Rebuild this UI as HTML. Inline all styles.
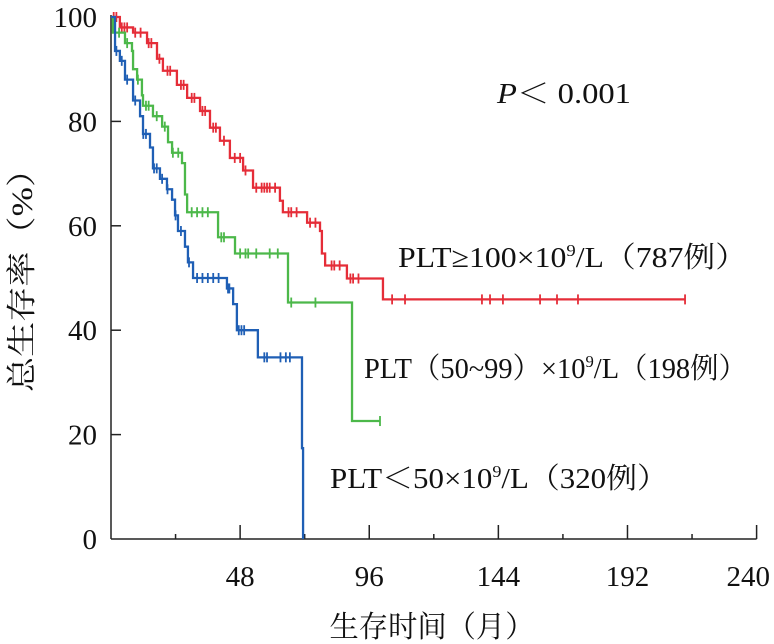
<!DOCTYPE html>
<html><head><meta charset="utf-8">
<style>
html,body{margin:0;padding:0;background:#fff;}
svg{display:block;}
text{font-family:"Liberation Serif","Noto Serif CJK SC",serif;fill:#111;}
</style></head>
<body>
<svg id="chart" width="774" height="644" viewBox="0 0 774 644" xmlns="http://www.w3.org/2000/svg">
<g id="axes"></g>
<g id="series"></g>
<text x="497" y="103" font-size="28" textLength="134" lengthAdjust="spacingAndGlyphs"><tspan font-style="italic">P</tspan>＜ 0.001</text>
<text x="398" y="267" font-size="29" textLength="349" lengthAdjust="spacingAndGlyphs">PLT≥100×10<tspan font-size="17" dy="-11">9</tspan><tspan dy="11">/L（787例）</tspan></text>
<text x="364" y="378" font-size="29" textLength="383" lengthAdjust="spacingAndGlyphs">PLT（50~99）×10<tspan font-size="17" dy="-11">9</tspan><tspan dy="11">/L（198例）</tspan></text>
<text x="330" y="488" font-size="29" textLength="338" lengthAdjust="spacingAndGlyphs">PLT＜50×10<tspan font-size="17" dy="-11">9</tspan><tspan dy="11">/L（320例）</tspan></text>
<text x="432" y="637" font-size="30" text-anchor="middle" textLength="205" lengthAdjust="spacingAndGlyphs">生存时间（月）</text>
<text transform="translate(32,272) rotate(-90)" font-size="30" text-anchor="middle" textLength="240" lengthAdjust="spacingAndGlyphs">总生存率（%）</text>
</svg>
<script>
// data
const xTicks = [48, 96, 144, 192, 240];
const yTicks = [0, 20, 40, 60, 80, 100];
const redTimes = [3.3, 8.2, 13.4, 17.1, 19.3, 24.5, 28.3, 33.1, 36.8, 40.5, 44.2, 49.1, 52.8, 62.8, 63.9, 72.9, 77.7, 78.4, 79.6, 87.7, 101.1];
const redSurv  = [98, 97, 95, 92, 89.7, 87, 84.5, 82, 78.8, 76.3, 73, 70.6, 67.3, 64.8, 62.6, 60.6, 59, 54.7, 52.4, 49.9, 45.9];
const redEnd = 213.4;
const redCensor = [1, 2, 4, 5, 6, 9, 11, 14, 15, 18, 21, 22, 26, 27, 30, 31, 34, 35, 38, 39, 42, 46, 48, 50, 54, 56, 57, 58, 59, 61, 66, 67, 69, 74, 76, 82, 83, 85, 89, 90, 92, 104.5, 109.3, 137.9, 140.9, 145.7, 159.5, 165.8, 173.6, 213.4];
const greenTimes = [0.7, 5.2, 7.8, 8.2, 9.7, 11.5, 11.9, 15.6, 19, 21.2, 22.7, 26.4, 27.5, 28.3, 39.8, 46.1, 65.8, 89.6];
const greenSurv  = [97, 95, 93.5, 90, 88, 85, 83, 81, 79, 76, 74, 72, 66, 62.6, 57.8, 54.7, 45.3, 22.6];
const greenEnd = 100;
const greenCensor = [3, 6, 10, 13, 14, 17, 20, 23, 25, 30, 32, 34, 36, 41, 42, 48, 50, 51, 54, 59, 62, 67, 76, 100];
const blueTimes = [1.5, 3.3, 5.2, 8.2, 10.8, 11.9, 14.5, 15.6, 18.2, 20.8, 22.7, 23.8, 24.9, 27.5, 28.6, 30.5, 43.1, 45.4, 46.8, 54.6, 71, 71.4];
const blueSurv  = [93.5, 91.6, 88, 84, 81, 77.6, 75, 71, 69, 67, 65, 62, 59, 56, 53, 50, 48, 45, 40, 34.8, 17.4, 0];
const blueEnd = 71.4;
const blueCensor = [2, 4, 6, 9, 12, 13, 16, 17, 19, 21, 24, 26, 29, 32, 34, 36, 38, 40, 43.5, 44, 47.5, 48.5, 49.5, 57, 58, 63, 65, 66.5];

const X0 = 111, XS = 2.69, Y0 = 539, YS = 5.22;
function xs(t){ return X0 + t * XS; }
function ys(v){ return Y0 - v * YS; }
const NS = 'http://www.w3.org/2000/svg';
function mk(tag, attrs, parent){
  const el = document.createElementNS(NS, tag);
  for (const k in attrs) el.setAttribute(k, attrs[k]);
  parent.appendChild(el);
  return el;
}
const axes = document.getElementById('axes');
const series = document.getElementById('series');

const yAxis = mk('line', {x1: X0, y1: ys(100) - 2, x2: X0, y2: Y0, stroke: '#222', 'stroke-width': 1.5}, axes);


const xAxis = mk('line', {x1: X0, y1: Y0, x2: xs(240), y2: Y0, stroke: '#222', 'stroke-width': 1.5}, axes);



for (let m = 24; m <= 240; m += 24) {
  const major = (m % 48 === 0);
  const tk = mk('line', {x1: xs(m), y1: Y0, x2: xs(m), y2: Y0 - (major ? 14 : 5), stroke: '#222', 'stroke-width': 1.5}, axes);
  
  
}
xTicks.forEach(v => {
  const s = String(v);
  const w = s.length * 14.5;
  const cx = Math.min(xs(v), 770 - w / 2);
  const t = mk('text', {x: cx, y: 586, 'font-size': 29, 'text-anchor': 'middle', textLength: w, lengthAdjust: 'spacingAndGlyphs'}, axes);
  t.textContent = s;
  
  
});
yTicks.forEach(v => {
  if (v > 0) {
    const tk = mk('line', {x1: X0, y1: ys(v), x2: X0 + 10, y2: ys(v), stroke: '#222', 'stroke-width': 1.5}, axes);
    
    
  }
  const s = String(v);
  const t = mk('text', {x: 97, y: ys(v) + 10, 'font-size': 29, 'text-anchor': 'end', textLength: s.length * 14.5, lengthAdjust: 'spacingAndGlyphs'}, axes);
  t.textContent = s;
  
  
});

function survAt(times, surv, t){
  let s = 100;
  for (let i = 0; i < times.length; i++) { if (times[i] <= t) s = surv[i]; }
  return s;
}
function drawSeries(name, color, times, surv, end, censor){
  let d = 'M' + xs(0) + ',' + ys(100);
  for (let i = 0; i < times.length; i++) {
    d += ' H' + xs(times[i]) + ' V' + ys(surv[i]);
  }
  if (end > times[times.length - 1]) d += ' H' + xs(end);
  const p = mk('path', {d: d, fill: 'none', stroke: color, 'stroke-width': 2.3}, series);
  
  
  censor.forEach(c => {
    const s = survAt(times, surv, c);
    const m = mk('line', {x1: xs(c), y1: ys(s) - 5, x2: xs(c), y2: ys(s) + 5, stroke: color, 'stroke-width': 1.8}, series);
    
    
  });
}
drawSeries('plt-ge-100', '#e52d38', redTimes, redSurv, redEnd, redCensor);
drawSeries('plt-50-99', '#4cb84a', greenTimes, greenSurv, greenEnd, greenCensor);
drawSeries('plt-lt-50', '#1f5fb5', blueTimes, blueSurv, blueEnd, blueCensor);
</script>
</body></html>
